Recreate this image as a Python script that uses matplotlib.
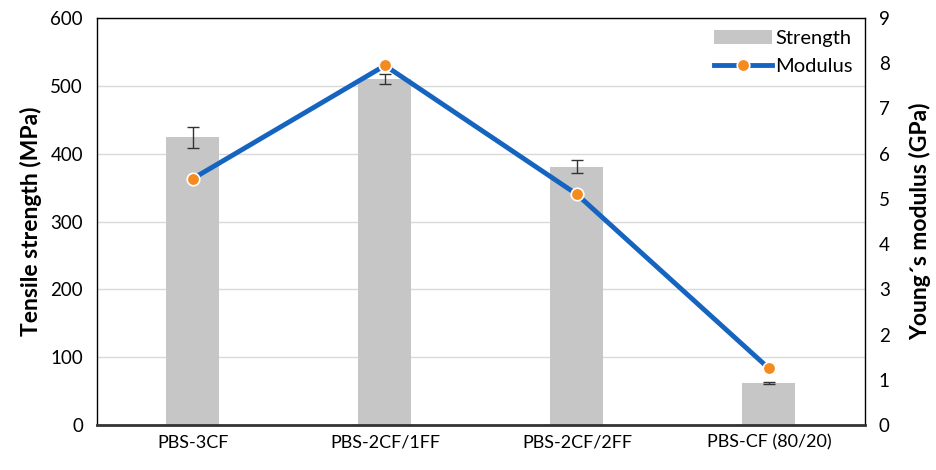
import matplotlib
matplotlib.use("Agg")
import matplotlib.pyplot as plt
import numpy as np

categories = ["PBS-3CF", "PBS-2CF/1FF", "PBS-2CF/2FF", "PBS-CF (80/20)"]
strength = [424, 510, 381, 62]
strength_err = [15, 8, 9, 1]
modulus = [5.45, 7.95, 5.1, 1.25]
left_ticks = [0, 100, 200, 300, 400, 500, 600]
right_ticks = [0, 1, 2, 3, 4, 5, 6, 7, 8, 9]

plt.rcParams['font.family'] = ['Lato', 'DejaVu Sans']

fig = plt.figure(figsize=(9.36, 4.70), dpi=100)
ax = fig.add_axes([0.1036, 0.0957, 0.8205, 0.866])
x = np.arange(len(categories))

ax.bar(x, strength, width=0.276, color="#C6C6C6", label="Strength", zorder=2)
ax.errorbar(x, strength, yerr=strength_err, fmt="none", ecolor="#333333",
            elinewidth=1.0, capsize=4, capthick=1.0, zorder=3)
ax.set_ylim(0, 600)
ax.set_xlim(-0.5, 3.5)
ax.set_yticks(left_ticks)
ax.set_xticks(x)
ax.set_xticklabels(categories, fontsize=13)
ax.tick_params(axis="y", labelsize=13.5, length=0, pad=10)
ax.tick_params(axis="x", length=0, pad=7)
ax.yaxis.grid(True, color="#D9D9D9", linewidth=1.0, zorder=0)
ax.set_axisbelow(True)
ax.set_ylabel("Tensile strength (MPa)", fontsize=16.5, fontweight="bold", labelpad=6)
for s in ["left", "right", "top"]:
    ax.spines[s].set_linewidth(1.0)
    ax.spines[s].set_color("#000000")
ax.spines["bottom"].set_linewidth(2.0)
ax.spines["bottom"].set_color("#333333")

ax2 = ax.twinx()
ax2.plot(x, modulus, color="#1565C0", linewidth=3.5, marker="o",
         markersize=9, markerfacecolor="#F58A1F", markeredgecolor="white",
         markeredgewidth=1.2, label="Modulus", zorder=4)
ax2.set_ylim(0, 9)
ax2.set_yticks(right_ticks)
ax2.tick_params(axis="y", labelsize=13.5, length=0, pad=10)
ax2.set_ylabel("Young\u00b4s modulus (GPa)", fontsize=16.5, fontweight="bold", labelpad=14)
for s in ax2.spines.values():
    s.set_visible(False)

h1, l1 = ax.get_legend_handles_labels()
h2, l2 = ax2.get_legend_handles_labels()
leg = ax2.legend(h1 + h2, l1 + l2, loc="upper right", frameon=False,
                 fontsize=14.5, handlelength=2.9, handletextpad=0.15,
                 borderaxespad=0.2, labelspacing=0.55)

fig.savefig("out.png", dpi=100)
